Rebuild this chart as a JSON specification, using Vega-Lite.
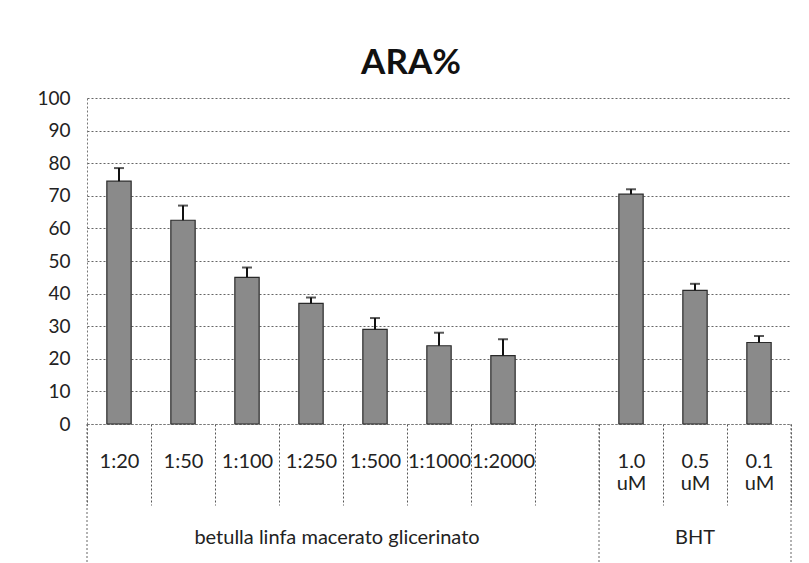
{
  "$schema": "https://vega.github.io/schema/vega-lite/v6.json",
  "width": 704,
  "height": 326,
  "autosize": {"type": "none"},
  "padding": {"left": 87, "top": 98, "right": 18, "bottom": 139},
  "background": "white",
  "title": {"text": "ARA%", "fontSize": 35, "font": "Lato", "fontWeight": "bold", "color": "#111", "anchor": "middle", "dx": -28, "offset": 8},
  "config": {
    "view": {"stroke": null},
    "font": "Lato",
    "axisY": {
      "title": null, "tickCount": 10, "labelOverlap": false,
      "labelFontSize": 19, "labelColor": "#222", "labelFont": "Lato", "ticks": false, "labelPadding": 17,
      "grid": true, "gridColor": "#666", "gridDash": [2, 2], "gridWidth": 1,
      "domainColor": "#777", "domainDash": [2, 2]
    },
    "axisX": {
      "title": null, "labelAngle": 0, "labelFontSize": 20, "labelColor": "#222", "labelFont": "Lato",
      "labelBaseline": "top", "labelPadding": -54, "labelLineHeight": 22, "labelOverlap": false,
      "tickBand": "extent", "tickSize": 81, "tickColor": "#555", "tickDash": [2, 2], "tickWidth": 1,
      "domainColor": "#777", "domainDash": [2, 2], "grid": false
    }
  },
  "datasets": {
    "bars": [
      {"cat": "1:20", "ara": 74.5, "hi": 78.5},
      {"cat": "1:50", "ara": 62.5, "hi": 67},
      {"cat": "1:100", "ara": 45, "hi": 48},
      {"cat": "1:250", "ara": 37, "hi": 38.8},
      {"cat": "1:500", "ara": 29, "hi": 32.5},
      {"cat": "1:1000", "ara": 24, "hi": 28},
      {"cat": "1:2000", "ara": 21, "hi": 26},
      {"cat": "1.0 uM", "ara": 70.5, "hi": 72},
      {"cat": "0.5 uM", "ara": 41, "hi": 43},
      {"cat": "0.1 uM", "ara": 25, "hi": 27}
    ],
    "startDividers": [{"cat": "1:20"}, {"cat": "1.0 uM"}],
    "endDividers": [{"cat": "0.1 uM"}],
    "grp1": [{"cat": "1:500", "label": "betulla linfa macerato glicerinato"}],
    "grp2": [{"cat": "0.5 uM", "label": "BHT"}]
  },
  "layer": [
    {
      "data": {"name": "bars"},
      "mark": {"type": "bar", "width": {"band": 0.38}, "fill": "#8a8a8a", "stroke": "#2a2a2a", "strokeWidth": 1.2},
      "encoding": {
        "x": {
          "field": "cat", "type": "nominal",
          "scale": {"domain": ["1:20", "1:50", "1:100", "1:250", "1:500", "1:1000", "1:2000", "gap", "1.0 uM", "0.5 uM", "0.1 uM"], "paddingInner": 0, "paddingOuter": 0},
          "axis": {
            "labelExpr": "(!datum.value || datum.value == 'gap') ? '' : split(datum.value, ' ')"
          }
        },
        "y": {
          "field": "ara", "type": "quantitative",
          "scale": {"domain": [0, 100], "nice": false}
        }
      }
    },
    {
      "data": {"name": "bars"},
      "mark": {"type": "rule", "color": "#111", "strokeWidth": 2},
      "encoding": {
        "x": {"field": "cat", "type": "nominal"},
        "y": {"field": "ara", "type": "quantitative"},
        "y2": {"field": "hi"}
      }
    },
    {
      "data": {"name": "bars"},
      "mark": {"type": "tick", "color": "#111", "size": 10, "thickness": 2},
      "encoding": {
        "x": {"field": "cat", "type": "nominal"},
        "y": {"field": "hi", "type": "quantitative"}
      }
    },
    {
      "data": {"name": "startDividers"},
      "mark": {"type": "rule", "color": "#666", "strokeDash": [2, 2], "strokeWidth": 1},
      "encoding": {
        "x": {"field": "cat", "type": "nominal", "bandPosition": 0},
        "y": {"datum": 0},
        "y2": {"datum": -43}
      }
    },
    {
      "data": {"name": "endDividers"},
      "mark": {"type": "rule", "color": "#666", "strokeDash": [2, 2], "strokeWidth": 1},
      "encoding": {
        "x": {"field": "cat", "type": "nominal", "bandPosition": 1},
        "y": {"datum": 0},
        "y2": {"datum": -43}
      }
    },
    {
      "data": {"name": "grp1"},
      "mark": {"type": "text", "fontSize": 20, "font": "Lato", "color": "#222", "baseline": "middle", "dx": -6},
      "encoding": {
        "x": {"field": "cat", "type": "nominal", "bandPosition": 0},
        "y": {"datum": -35},
        "text": {"field": "label"}
      }
    },
    {
      "data": {"name": "grp2"},
      "mark": {"type": "text", "fontSize": 20, "font": "Lato", "color": "#222", "baseline": "middle"},
      "encoding": {
        "x": {"field": "cat", "type": "nominal", "bandPosition": 0.5},
        "y": {"datum": -35},
        "text": {"field": "label"}
      }
    }
  ]
}
